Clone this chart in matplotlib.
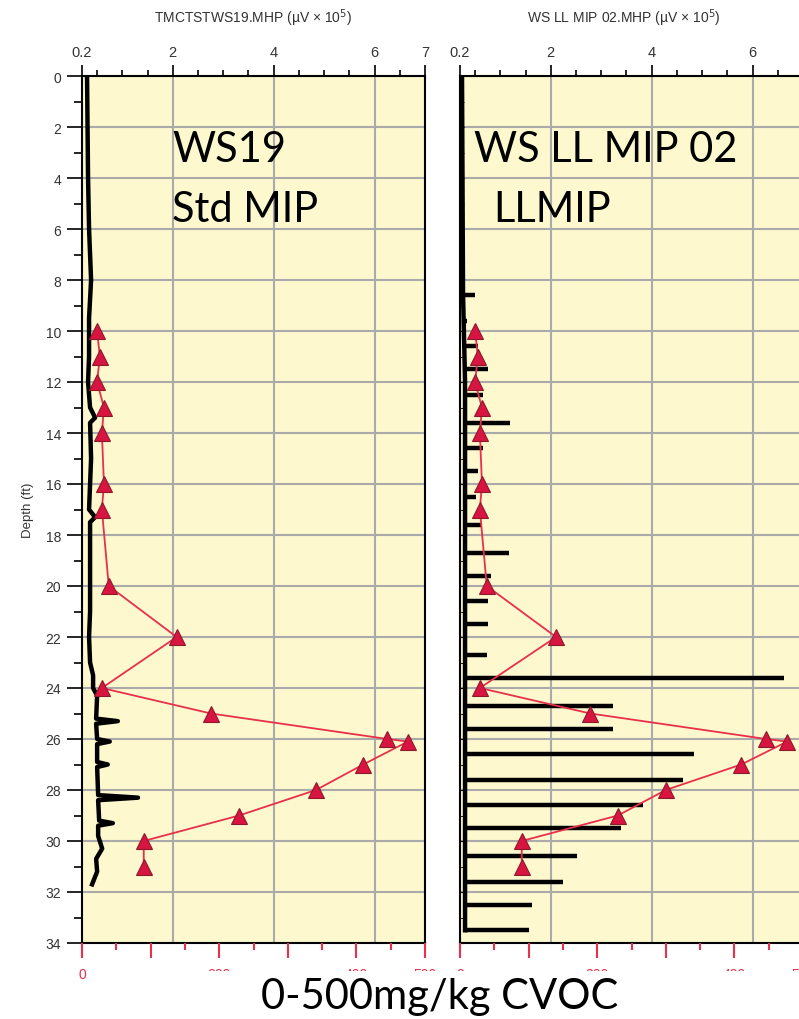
import numpy as np
import matplotlib.pyplot as plt
from matplotlib.patches import Rectangle
from matplotlib.ticker import MultipleLocator, FixedLocator

# MIP signal, WS19 (depth ft, uV x 1e5)
ws19_depth = [0, 2, 4, 6, 8, 9.5, 11, 12, 13, 13.4, 13.6, 15, 17, 17.3, 17.5, 19, 21, 22,
              23, 23.5, 24, 24.3, 25.2, 25.3, 25.4, 26.0, 26.1, 26.2, 26.9, 27.0, 27.1,
              28.2, 28.3, 28.4, 29.2, 29.3, 29.4, 29.8, 30.3, 30.7, 31.2, 31.7]
ws19_sig = [0.30, 0.31, 0.32, 0.34, 0.38, 0.34, 0.34, 0.32, 0.36, 0.46, 0.36, 0.38, 0.34,
            0.46, 0.36, 0.36, 0.36, 0.34, 0.36, 0.42, 0.42, 0.50, 0.48, 0.91, 0.48, 0.50,
            0.75, 0.50, 0.50, 0.71, 0.50, 0.52, 1.31, 0.52, 0.54, 0.81, 0.52, 0.52, 0.60,
            0.48, 0.50, 0.40]

# LL MIP 02: baseline + spikes
ll_base_depth = [0, 8.5, 12, 33.5]
ll_base_sig = [0.24, 0.26, 0.30, 0.30]
ll_spike_depth = [8.6, 9.6, 10.6, 11.5, 12.5, 13.6, 14.6, 15.5, 16.5, 17.6, 18.7, 19.6,
                  20.6, 21.5, 22.7, 23.6, 24.7, 25.6, 26.6, 27.6, 28.6, 29.5, 30.6, 31.6,
                  32.5, 33.5]
ll_spike_sig = [0.50, 0.34, 0.56, 0.75, 0.66, 1.20, 0.66, 0.56, 0.52, 0.62, 1.17, 0.81,
                0.75, 0.75, 0.73, 6.62, 3.23, 3.23, 4.83, 4.62, 3.82, 3.39, 2.52, 2.24,
                1.63, 1.57]

# lab CVOC (mg/kg)
cvoc_depth = [10, 11, 12, 13, 14, 16, 17, 20, 22, 24, 25, 26, 26.1, 27, 28, 29, 30, 31]
cvoc_ws19 = [22, 26, 22, 32, 29, 32, 29, 39, 138, 29, 188, 445, 475, 410, 341, 229, 90, 90]
cvoc_ll02 = [22, 26, 22, 32, 29, 32, 29, 39, 140, 29, 190, 446, 477, 410, 300, 230, 90, 90]

mip_ticks = [0.2, 2, 4, 6, 7]
cvoc_ticks = [0, 100, 200, 300, 400, 500]
cvoc_labels = ['0', '', '200', '', '400', '500']

W, H = 799, 1020
fig = plt.figure(figsize=(W / 100, H / 100), dpi=100)
tickfont = 'Liberation Sans'
bg = '#FEF8CF'
red = '#E8304A'
tri_face = '#D81440'
tri_edge = '#8B1A2B'


def make_panel(x0, depth_labels):
    ax = fig.add_axes([x0 / W, (H - 944) / H, 343 / W, 867 / H])
    ax2 = ax.twiny()

    ax.set_facecolor(bg)
    ax.set_xlim(0.2, 7)
    ax.set_ylim(34, 0)
    ax.xaxis.tick_top()
    ax.set_xticks(mip_ticks, [str(t) for t in mip_ticks])
    ax.xaxis.set_minor_locator(FixedLocator([0.5, 1, 1.5, 2.5, 3, 3.5, 4.5, 5, 5.5, 6.5]))
    ax.yaxis.set_major_locator(MultipleLocator(2))
    ax.yaxis.set_minor_locator(MultipleLocator(1))
    ax.tick_params(axis='x', which='major', length=8, width=1.2, pad=4,
                   labelsize=10.5, labelcolor='#333333')
    ax.tick_params(axis='x', which='minor', length=4, width=1.2)
    if depth_labels:
        ax.tick_params(axis='y', which='major', length=11, width=1.2, labelsize=10,
                       labelcolor='#333333', pad=4)
        ax.tick_params(axis='y', which='minor', length=6, width=1.2)
        ax.set_ylabel('Depth (ft)', fontsize=9.5, fontname=tickfont, color='#333333',
                      labelpad=8)
    else:
        ax.tick_params(axis='y', which='both', direction='in', length=3, labelleft=False)
    for lab in ax.get_xticklabels() + ax.get_yticklabels():
        lab.set_fontname(tickfont)
    ax.grid(True, which='major', color='#AAAAAA', lw=1.5)
    ax.set_axisbelow(True)
    for s in ax.spines.values():
        s.set_linewidth(1.5)

    ax2.set_xlim(0, 500)
    ax2.xaxis.tick_bottom()
    ax2.set_xticks(cvoc_ticks, cvoc_labels)
    ax2.xaxis.set_minor_locator(FixedLocator([50, 150, 250, 350, 450]))
    ax2.tick_params(axis='x', which='major', length=11, width=1.5, color=red,
                    labelcolor=red, labelsize=10, pad=6)
    ax2.tick_params(axis='x', which='minor', length=5, width=1.5, color=red)
    for lab in ax2.get_xticklabels():
        lab.set_fontname(tickfont)
    for s in ax2.spines.values():
        s.set_visible(False)
    return ax, ax2


ax, ax2 = make_panel(82, True)
ax.plot(ws19_sig, ws19_depth, color='black', lw=3.2, solid_joinstyle='round')
ax2.plot(cvoc_ws19, cvoc_depth, color=red, lw=1.3, marker='^', ms=12,
         mfc=tri_face, mec=tri_edge, mew=0.8)

bx, bx2 = make_panel(460, False)
bx.plot(ll_base_sig, ll_base_depth, color='black', lw=3.2)
bx.hlines(ll_spike_depth, ll_base_sig[-1], ll_spike_sig, color='black', lw=3.2)
bx2.plot(cvoc_ll02, cvoc_depth, color=red, lw=1.3, marker='^', ms=12,
         mfc=tri_face, mec=tri_edge, mew=0.8)

fig.text(253 / W, 1 - 18 / H, 'TMCTSTWS19.MHP (µV × 10$^5$)', ha='center', va='center',
         fontsize=10, fontname=tickfont, color='#333333')
fig.text(624 / W, 1 - 18 / H, 'WS LL MIP 02.MHP (µV × 10$^5$)', ha='center', va='center',
         fontsize=10, fontname=tickfont, color='#333333')

# white box that hides the lower half of the red tick labels
fig.add_artist(Rectangle((100 / W, 0), 1, (H - 972) / H, transform=fig.transFigure,
                         facecolor='white', edgecolor='none', zorder=5))

big = dict(fontsize=30, fontname='Lato', color='black', va='center', ha='left', zorder=6)
fig.text(172 / W, 1 - 150 / H, 'WS19', **big)
fig.text(172 / W, 1 - 210 / H, 'Std MIP', **big)
fig.text(474 / W, 1 - 150 / H, 'WS LL MIP 02', **big)
fig.text(493 / W, 1 - 210 / H, 'LLMIP', **big)
fig.text(440 / W, 1 - 997 / H, '0-500mg/kg CVOC', fontsize=30, fontname='Lato',
         color='black', va='center', ha='center', zorder=6)

fig.savefig('out.png', dpi=100)
